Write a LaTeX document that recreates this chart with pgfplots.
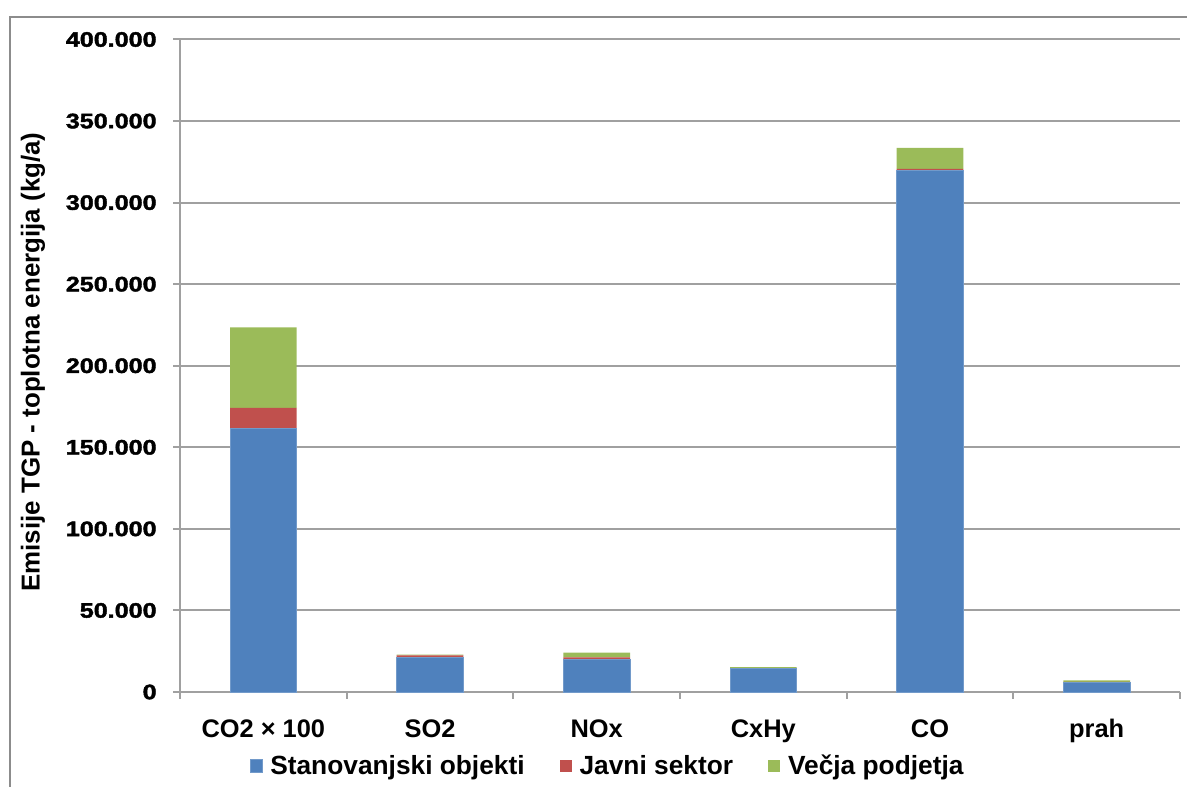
\documentclass[border=0pt]{standalone}
\usepackage{fontspec}
\setmainfont{Liberation Sans}
\newfontfamily\tickfont[FakeStretch=1.2, BoldFeatures={FakeBold=2}]{Liberation Sans}
\usepackage{pgfplots}
\pgfplotsset{compat=1.18}

\definecolor{sBlue}{RGB}{79,129,189}
\definecolor{sRed}{RGB}{192,80,77}
\definecolor{sGreen}{RGB}{155,187,89}
\definecolor{lineGray}{RGB}{160,160,160}
\definecolor{frameGray}{RGB}{140,140,140}

\newcommand{\lblfont}{\bfseries\fontsize{12.75}{14}\selectfont}
\newcommand{\legfont}{\bfseries\fontsize{13.2}{15}\selectfont}

\begin{document}
\begin{tikzpicture}
\useasboundingbox (0bp,0bp) rectangle (593.5bp,393.5bp);
% chart area frame
\draw[frameGray, line width=1bp] (5bp,0bp) -- (5bp,385bp) -- (593.5bp,385bp);

\begin{axis}[
  at={(131.67bp,47.5bp)}, anchor=origin,
  scale only axis, width=500bp, height=326.25bp,
  ybar stacked, bar width=0.4,
  xmin=-0.5, xmax=5.5, ymin=0, ymax=400000,
  axis x line*=bottom, axis y line*=left,
  axis line style={draw=lineGray, line width=1bp},
  xtick={0,...,5},
  xticklabels={CO2 × 100, SO2, NOx, CxHy, CO, prah},
  major x tick style={draw=none},
  minor xtick={-0.5,0.5,...,5.5},
  minor x tick style={draw=lineGray, line width=1bp},
  minor tick length=3.5bp,
  ytick distance=50000,
  major y tick style={draw=lineGray, line width=1bp},
  major tick length=3.5bp,
  tick align=outside,
  ymajorgrids, grid style={draw=lineGray, line width=1bp},
  scaled y ticks=false,
  /pgf/number format/assume math mode=true,
  /pgf/number format/fixed,
  /pgf/number format/1000 sep={.},
  yticklabel style={font=\tickfont\bfseries\fontsize{10.5}{12}\selectfont, anchor=east, inner sep=0pt, xshift=-8bp},
  xticklabel style={font=\lblfont, anchor=base, yshift=-19bp},
  legend style={at={(axis description cs:0.4285,-0.1134)}, anchor=center,
    draw=none, fill=none, font=\legfont, inner sep=0pt,
    /tikz/every odd column/.append style={column sep=2bp},
    /tikz/every even column/.append style={column sep=15.5bp}},
  legend columns=3,
  legend image code/.code={\fill[#1] (0bp,-3.2bp) rectangle (6bp,3.2bp);},
]
\addplot[fill=sBlue, draw=sBlue!80!white, line width=0.4bp] coordinates {(0,161600) (1,21300) (2,20100) (3,14400) (4,319900) (5,6100)};
\addplot[fill=sRed, draw=none] coordinates {(0,12500) (1,1200) (2,1200) (3,100) (4,800) (5,100)};
\addplot[fill=sGreen, draw=none] coordinates {(0,49400) (1,400) (2,2900) (3,800) (4,12800) (5,900)};
\legend{Stanovanjski objekti, Javni sektor, Večja podjetja}
\end{axis}

\node[rotate=90, font=\bfseries\fontsize{13}{15}\selectfont] at (16.5bp,212.5bp) {Emisije TGP - toplotna energija (kg/a)};
\end{tikzpicture}
\end{document}
